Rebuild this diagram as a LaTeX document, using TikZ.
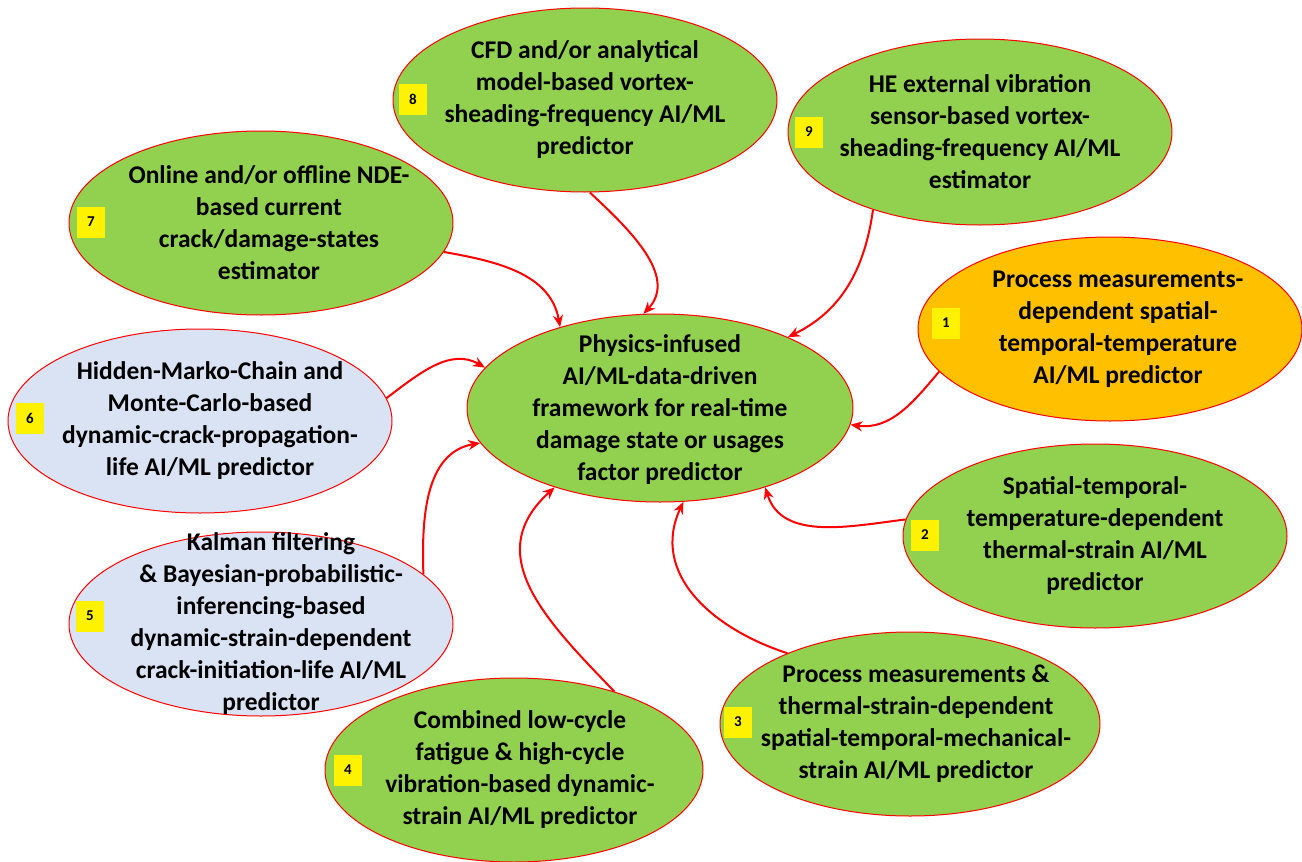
\documentclass[tikz,border=0pt]{standalone}
\usepackage{fontspec}
\setmainfont{Carlito}
\usepackage{xcolor}
\usetikzlibrary{shapes.geometric, arrows.meta, positioning}

\definecolor{leafgreen}{HTML}{92D050}
\definecolor{paleblue}{HTML}{DAE3F3}
\definecolor{amber}{HTML}{FFC000}

\tikzset{
    blob/.style={ellipse, draw=red, line width=0.5pt, minimum width=192pt,
        minimum height=92pt, inner sep=0pt},
    blobtext/.style={align=center, font=\fontsize{12.75}{16}\selectfont\bfseries},
    numbox/.style={fill=yellow, minimum width=14pt, minimum height=15.5pt,
        inner sep=0pt, font=\fontsize{7.5}{9}\selectfont\bfseries},
    link/.style={red, line width=1pt, -{Stealth[length=6pt, width=5pt]}}
}

\begin{document}
\begin{tikzpicture}[x=0.5pt, y=0.5pt]
    \useasboundingbox (0,0) rectangle (1302,-862);

    % Central framework
    \node[blob, fill=leafgreen, minimum width=193pt, minimum height=94pt] (core) at (660,-408) {};
    \node[blobtext] (coretxt) at ([yshift=-1pt]core) {Physics-infused\\AI/ML-data-driven\\framework for real-time\\damage state or usages\\factor predictor};

    % Surrounding predictors
    \node[blob, fill=amber] (temp) at (1110,-329) {};
    \node[blobtext] (temptxt) at ([xshift=4pt]temp) {Process measurements-\\dependent spatial-\\temporal-temperature\\AI/ML predictor};
    \node[blob, fill=leafgreen] (thermal) at (1095,-536) {};
    \node[blobtext] (thermaltxt) at (thermal) {Spatial-temporal-\\temperature-dependent\\thermal-strain AI/ML\\predictor};
    \node[blob, fill=leafgreen, minimum width=190pt] (mech) at (910,-724) {};
    \node[blobtext] (mechtxt) at ([xshift=3pt]mech) {Process measurements \&\\thermal-strain-dependent\\spatial-temporal-mechanical-\\strain AI/ML predictor};
    \node[blob, fill=leafgreen, minimum width=189pt] (dyn) at (514,-770) {};
    \node[blobtext] (dyntxt) at ([xshift=3pt]dyn) {Combined low-cycle\\fatigue \& high-cycle\\vibration-based dynamic-\\strain AI/ML predictor};
    \node[blob, fill=paleblue] (kalman) at (261,-624) {};
    \node[blobtext] (kalmantxt) at ([xshift=5pt]kalman) {Kalman filtering\\\& Bayesian-probabilistic-\\inferencing-based\\dynamic-strain-dependent\\crack-initiation-life AI/ML\\predictor};
    \node[blob, fill=paleblue] (hmc) at (200,-421) {};
    \node[blobtext] (hmctxt) at ([xshift=5pt]hmc) {Hidden-Marko-Chain and\\Monte-Carlo-based\\dynamic-crack-propagation-\\life AI/ML predictor};
    \node[blob, fill=leafgreen] (nde) at (261,-223) {};
    \node[blobtext] (ndetxt) at ([xshift=4pt]nde) {Online and/or offline NDE-\\based current\\crack/damage-states\\estimator};
    \node[blob, fill=leafgreen] (cfd) at (585,-100) {};
    \node[blobtext] (cfdtxt) at (cfd) {CFD and/or analytical\\model-based vortex-\\sheading-frequency AI/ML\\predictor};
    \node[blob, fill=leafgreen, minimum height=93pt] (vib) at (980,-132) {};
    \node[blobtext] (vibtxt) at (vib) {HE external vibration\\sensor-based vortex-\\sheading-frequency AI/ML\\estimator};

    % Number tags
    \foreach \n/\x/\y in {1/946/323, 2/925/535, 3/738/722, 4/348/770, 5/90/616,
                          6/30/418, 7/91/222, 8/413/99, 9/809/132} {
        \node[numbox] (tag\n) at (\x,-\y) {\n};
    }

    % Links into the framework
    \draw[link] (nde.-9) to[out=-10, in=100] (core.141);
    \draw[link] (cfd.-87) to[out=-43, in=47] (core.100);
    \draw[link] (vib.216) to[out=-98, in=26] (core.29);
    \draw[link] (temp.194) to[out=-130, in=-8] (core.-5);
    \draw[link] (thermal.175) to[out=187, in=-73] (core.-37);
    \draw[link] (mech.150) to[out=162, in=-115, looseness=1.1] (core.-76);
    \draw[link] (dyn.38) to[out=134, in=-138, looseness=1.2] (core.217);
    \draw[link] (kalman.17) to[out=92, in=190] (core.191);
    \draw[link] (hmc.7) to[out=37, in=150] (core.167);
\end{tikzpicture}
\end{document}
